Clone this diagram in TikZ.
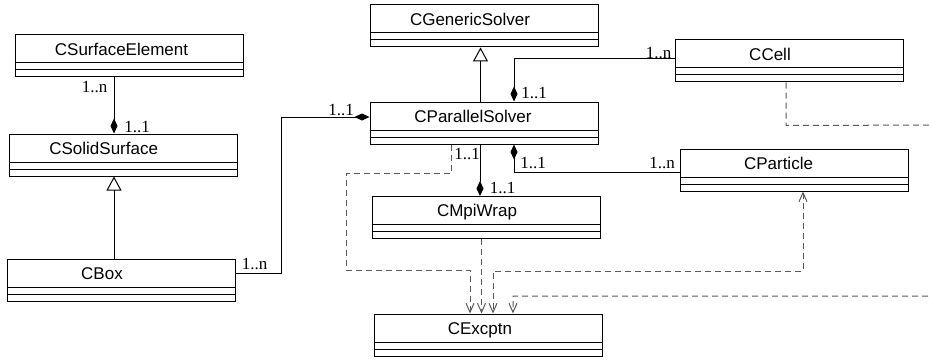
\documentclass[tikz,border=0pt]{standalone}
\usepackage{fontspec}
\setmainfont{Liberation Serif}
\newfontfamily\classfont{Liberation Sans}
\usetikzlibrary{arrows.meta}

\begin{document}
\begin{tikzpicture}[
        x=1pt, y=-1pt,
        classbox/.style={rectangle, draw=black, line width=1pt, minimum width=228pt, minimum height=42pt, inner sep=0pt},
        classname/.style={font=\classfont\fontsize{17}{20}\selectfont, inner sep=0pt, text height=12.2pt, text depth=0pt},
        mult/.style={font=\fontsize{17}{20}\selectfont, inner sep=0pt},
        comp/.style={line width=1pt, -{Diamond[length=15pt, width=7pt]}},
        inherit/.style={line width=1pt, -{Triangle[open, length=14pt, width=15pt]}},
        dep/.style={line width=1pt, black!65, dash pattern=on 6pt off 4pt, -{Straight Barb[length=9pt, width=8pt]}}
    ]
        \useasboundingbox (0,0) rectangle (929,361);
        \clip (0,0) rectangle (929,361);

        % classes
        \node[classbox] (surfelem) at (129,56) {};
        \node[classname] (surfelem-name) at (121.5,49) {CSurfaceElement};
        \node[classbox] (solid) at (123,155) {};
        \node[classname] (solid-name) at (103.7,148) {CSolidSurface};
        \node[classbox] (cbox) at (121.5,280.5) {};
        \node[classname] (cbox-name) at (102,273.5) {CBox};
        \node[classbox] (generic) at (484.5,26) {};
        \node[classname] (generic-name) at (470,19) {CGenericSolver};
        \node[classbox] (parallel) at (484,123) {};
        \node[classname] (parallel-name) at (473,116) {CParallelSolver};
        \node[classbox] (cell) at (789.5,61) {};
        \node[classname] (cell-name) at (770,54) {CCell};
        \node[classbox] (particle) at (794.5,170) {};
        \node[classname] (particle-name) at (778.5,163) {CParticle};
        \node[classbox] (mpiwrap) at (486,217.5) {};
        \node[classname] (mpiwrap-name) at (477,210.5) {CMpiWrap};
        \node[classbox] (excptn) at (488.5,335) {};
        \node[classname] (excptn-name) at (480,328) {CExcptn};

        % empty attribute and operation compartments
        \foreach \c in {surfelem, solid, cbox, generic, parallel, cell, particle, mpiwrap, excptn} {
            \draw[line width=1pt] ([yshift=-7pt]\c.west) -- ([yshift=-7pt]\c.east);
            \draw[line width=1pt] ([yshift=-14pt]\c.west) -- ([yshift=-14pt]\c.east);
        }

        % generalisation
        \draw[inherit] ([xshift=-7.5pt]cbox.north) -- ([xshift=-9pt]solid.south);
        \draw[inherit] ([xshift=-3.5pt]parallel.north) -- ([xshift=-4pt]generic.south);

        % composition
        \draw[comp] ([xshift=-15pt]surfelem.south) -- ([xshift=-9pt]solid.north);
        \draw[comp] ([yshift=7pt]cbox.east) -- ++(45,0) |- ([yshift=6pt]parallel.west);
        \draw[comp] ([yshift=2pt]cell.west) -| ([xshift=30pt]parallel.north);
        \draw[comp] ([yshift=-2pt]particle.west) -| ([xshift=30pt]parallel.south);
        \draw[comp] ([xshift=-4pt]parallel.south) -- ([xshift=-6pt]mpiwrap.north);

        % multiplicities
        \node[mult] (m-surfelem) at (94.5,87.5) {1..n};
        \node[mult] (m-solid) at (137,127) {1..1};
        \node[mult] (m-cbox) at (254.5,264) {1..n};
        \node[mult] (m-parleft) at (341,110) {1..1};
        \node[mult] (m-partop) at (534,93) {1..1};
        \node[mult] (m-cell) at (658.5,53) {1..n};
        \node[mult] (m-parbottom) at (467,154) {1..1};
        \node[mult] (m-parright) at (533,163.5) {1..1};
        \node[mult] (m-particle) at (662,163.5) {1..n};
        \node[mult] (m-mpiwrap) at (502.5,188.5) {1..1};

        % exception dependencies
        \draw[dep] ([xshift=-33pt]parallel.south) -- ++(0,29) -| (346,270) -| ([xshift=-18.5pt]excptn.north);
        \draw[dep] ([xshift=-4.5pt]mpiwrap.south) -- ([xshift=-7pt]excptn.north);
        \draw[dep, {Straight Barb[length=9pt, width=8pt]}-{Straight Barb[length=9pt, width=8pt]}] ([xshift=8.5pt]particle.south) -- ++(0,80) -| ([xshift=4.5pt]excptn.north);
        \draw[dep] ([xshift=-3.5pt]cell.south) -- ++(0,43) -- (950,125) -- (950,296) -| ([xshift=24.5pt]excptn.north);
    \end{tikzpicture}
\end{document}
